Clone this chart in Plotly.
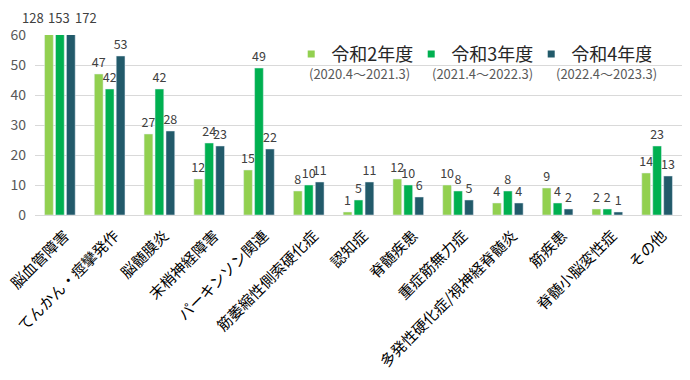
import plotly.graph_objects as go

categories = ["脳血管障害", "てんかん・痙攣発作", "脳髄膜炎", "末梢神経障害", "パーキンソン関連",
              "筋萎縮性側索硬化症", "認知症", "脊髄疾患", "重症筋無力症",
              "多発性硬化症/視神経脊髄炎", "筋疾患", "脊髄小脳変性症", "その他"]
r2 = [128, 47, 27, 12, 15, 8, 1, 12, 10, 4, 9, 2, 14]
r3 = [153, 42, 42, 24, 49, 10, 5, 10, 8, 8, 4, 2, 23]
r4 = [172, 53, 28, 23, 22, 11, 11, 6, 5, 4, 2, 1, 13]
series_names = ["令和2年度", "令和3年度", "令和4年度"]
series_periods = ["(2020.4～2021.3)", "(2021.4～2022.3)", "(2022.4～2023.3)"]
colors = ["#92D050", "#00B050", "#225A6A"]
y_max = 60
y_ticks = [0, 10, 20, 30, 40, 50, 60]

FONT = "Noto Sans CJK JP"
series = [r2, r3, r4]

fig = go.Figure()
for name, vals, col in zip(series_names, series, colors):
    fig.add_trace(go.Bar(
        x=categories, y=vals, name=name, marker_color=col, showlegend=False,
        text=[str(v) for v in vals], textposition="outside", cliponaxis=True,
        constraintext="none",
        textfont=dict(size=12.5, color="#404040", family=FONT),
    ))
    fig.add_trace(go.Scatter(
        x=[None], y=[None], mode="markers", name=name,
        marker=dict(symbol="square", size=7, color=col),
    ))

# labels for bars exceeding the axis range
shifts = [-27, -1, 26]
for vals, sh in zip(series, shifts):
    for c, v in zip(categories, vals):
        if v > y_max:
            fig.add_annotation(x=c, y=y_max, text=str(v), showarrow=False,
                               xshift=sh, yshift=18, yanchor="middle",
                               font=dict(size=13, color="#404040", family=FONT))

period_x = [0.502, 0.692, 0.884]
for px, p in zip(period_x, series_periods):
    fig.add_annotation(x=px, y=0.788, xref="paper", yref="paper", text=p,
                       showarrow=False, xanchor="center", yanchor="middle",
                       font=dict(size=13, color="#595959", family=FONT))

# the page body adds an 8px offset, so the figure is 8px smaller on each axis
fig.update_layout(
    width=682, height=372,
    margin=dict(l=27, r=8, t=27, b=165),
    paper_bgcolor="white", plot_bgcolor="white",
    barmode="group", bargap=0.34, bargroupgap=0.2,
    font=dict(family=FONT),
    showlegend=True,
    legend=dict(orientation="h", x=0.396, xanchor="left",
                y=0.893, yanchor="middle", bgcolor="rgba(0,0,0,0)",
                font=dict(size=18, color="#262626", family=FONT),
                entrywidth=75),
    xaxis=dict(tickangle=-45, tickfont=dict(size=15, color="#000000", family=FONT),
               tickmode="array", tickvals=categories, ticktext=categories,
               range=[-0.5, len(categories) - 0.5],
               ticklabelstandoff=8, ticklabelshift=5,
               showgrid=False, showline=False, ticks="", automargin=False),
    yaxis=dict(range=[0, y_max], tickvals=y_ticks, showgrid=True, gridcolor="#D9D9D9",
               zeroline=True, zerolinecolor="#D9D9D9", zerolinewidth=1,
               tickfont=dict(size=14, color="#595959", family=FONT), ticks="",
               ticklabelstandoff=8, automargin=False),
)

fig.write_html("out.html")
